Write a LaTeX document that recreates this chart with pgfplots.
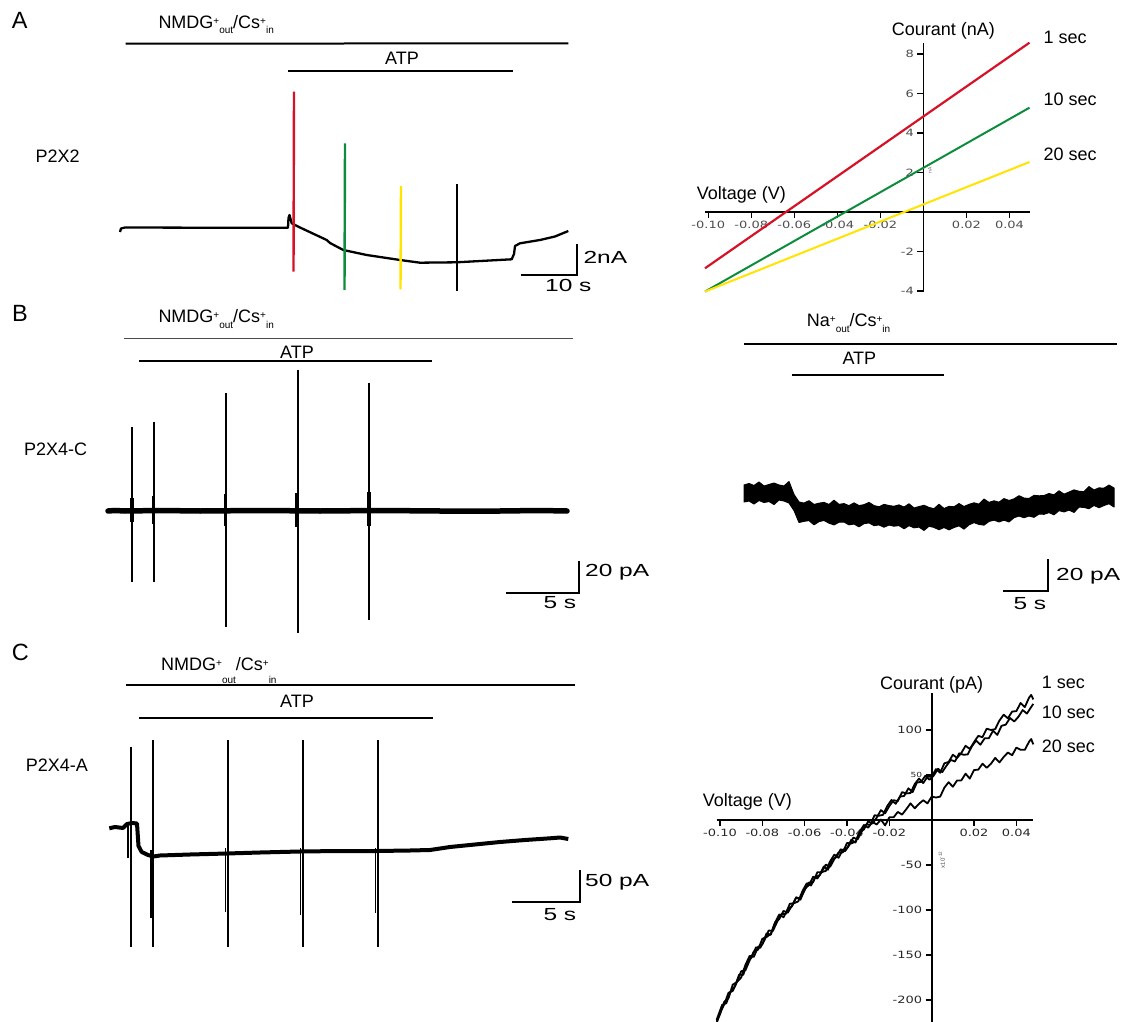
\documentclass[border=0pt]{standalone}
\usepackage{fontspec}
\setmainfont{Liberation Sans}
\newfontfamily\barfont[FakeStretch=1.4]{Liberation Sans}
\newfontfamily\tickfont[FakeStretch=1.3]{DejaVu Sans}
\usepackage{pgfplots}
\pgfplotsset{compat=1.18}

\definecolor{ivred}{RGB}{214,18,38}
\definecolor{ivgreen}{RGB}{12,140,60}
\definecolor{ivyellow}{RGB}{255,228,0}

\newcommand\lab{\fontsize{18}{20}\selectfont}
\newcommand\pnl{\fontsize{23.5}{26}\selectfont}
\newcommand\sbl{\barfont\fontsize{17.5}{20}\selectfont}
\newcommand\up[1]{\raisebox{4pt}{\fontsize{10}{10}\selectfont #1}}
\newcommand\dn[2]{\raisebox{-#1}{\fontsize{10}{10}\selectfont #2}}

\pgfplotsset{
  ivstyle/.style={
    anchor=south west, scale only axis, clip=false,
    axis lines=middle,
    axis line style={line width=1.8pt, -},
    every inner x axis line/.append style={-},
    every inner y axis line/.append style={-},
    tick align=outside, major tick length=6pt,
    tick style={line width=1.2pt, black},
    xtick={-0.10,-0.08,-0.06,-0.04,-0.02,0.02,0.04},
    xticklabels={-0.10,-0.08,-0.06,-0.04,-0.02,0.02,0.04},
    no markers,
  },
}

\begin{document}
\begin{tikzpicture}
\useasboundingbox (0,0) rectangle (1125pt,1022pt);

% ---- A: I-V, P2X2 (nA)
\begin{axis}[ivstyle,
  at={(705pt,730pt)}, width=324.5pt, height=249.3pt,
  xmin=-0.1015, xmax=0.0493, ymin=-4.05, ymax=8.57,
  ytick={-4,-2,2,4,6,8},
  yticklabels={-4,-2,2,4,6,8},
  ticklabel style={font=\tickfont\fontsize{10}{10}\selectfont, text=black!70},
]
\addplot[ivred, line width=2.2pt] coordinates {(-0.1015,-2.85) (0.0493,8.57)};
\addplot[ivgreen, line width=2pt] coordinates {(-0.1015,-4.03) (0.0493,5.28)};
\addplot[ivyellow, line width=2pt] coordinates {(-0.1015,-4.03) (0.0493,2.53)};
\end{axis}

% ---- C: I-V, P2X4-A (pA)
\begin{axis}[ivstyle,
  at={(716.6pt,0pt)}, width=316.7pt, height=328.7pt,
  xmin=-0.1016, xmax=0.048, ymin=-224.4, ymax=140.8,
  ytick={-200,-150,-100,-50,50,100},
  yticklabels={-200,-150,-100,-50,{\fontsize{7}{7}\selectfont 50},100},
  ticklabel style={font=\tickfont\fontsize{10}{10}\selectfont, text=black!85},
]
% 1 sec
\addplot[black, line width=1.8pt, line join=round] coordinates {
(-0.1016,-224) (-0.100,-216) (-0.098,-202) (-0.096,-198) (-0.094,-183)
(-0.092,-180) (-0.090,-175) (-0.088,-161) (-0.086,-151) (-0.084,-152)
(-0.082,-141) (-0.080,-138) (-0.078,-126) (-0.076,-127.5) (-0.074,-114)
(-0.072,-110) (-0.070,-101) (-0.068,-103) (-0.066,-95) (-0.064,-86)
(-0.062,-87.5) (-0.060,-78) (-0.058,-69.5) (-0.056,-69) (-0.054,-58)
(-0.052,-58) (-0.050,-56.5) (-0.048,-46) (-0.046,-38.5) (-0.044,-42)
(-0.042,-33) (-0.040,-31.5) (-0.038,-22) (-0.036,-25) (-0.034,-13)
(-0.032,-10.5) (-0.030,-1.5) (-0.028,-4) (-0.026,2.5) (-0.024,11)
(-0.022,7.5) (-0.020,15.5) (-0.018,22) (-0.016,21) (-0.014,31)
(-0.012,29.5) (-0.010,30) (-0.008,40) (-0.006,46) (-0.004,41)
(-0.002,48) (0.000,48) (0.002,56.5) (0.004,52.5) (0.006,63)
(0.008,64.5) (0.010,72.5) (0.012,69) (0.014,74.5) (0.016,82.5)
(0.018,79) (0.020,86.5) (0.022,93.5) (0.024,92) (0.026,101.5)
(0.028,100) (0.030,101) (0.032,110.5) (0.034,117) (0.036,113)
(0.038,120.5) (0.040,121) (0.042,130) (0.044,125.5) (0.046,136)
(0.047,139) (0.048,134)
};
% 10 sec
\addplot[black, line width=1.8pt, line join=round] coordinates {
(-0.1016,-222) (-0.099,-205.5) (-0.097,-203.5) (-0.095,-190.5) (-0.093,-185)
(-0.091,-172) (-0.089,-172) (-0.087,-157.5) (-0.085,-152.5) (-0.083,-141.5)
(-0.081,-142) (-0.079,-133.5) (-0.077,-122.75) (-0.075,-123.25) (-0.073,-113)
(-0.071,-104.5) (-0.069,-104.5) (-0.067,-93) (-0.065,-92.5) (-0.063,-90.25)
(-0.061,-78.75) (-0.059,-70.25) (-0.057,-72.75) (-0.055,-63.5) (-0.053,-61.5)
(-0.051,-51.75) (-0.049,-55.25) (-0.047,-43.75) (-0.045,-41.25) (-0.043,-32.5)
(-0.041,-34.75) (-0.039,-28.25) (-0.037,-19.5) (-0.035,-21.5) (-0.033,-12.75)
(-0.031,-5) (-0.029,-5.25) (-0.027,5.25) (-0.025,4.75) (-0.023,5.75)
(-0.021,15.5) (-0.019,22.25) (-0.017,18) (-0.015,26) (-0.013,26.75)
(-0.011,35.25) (-0.009,31) (-0.007,41.5) (-0.005,42.5) (-0.003,49.1)
(-0.001,44.7) (0.001,49.55) (0.003,56.9) (0.005,53.25) (0.007,60.35)
(0.009,66.7) (0.011,65.05) (0.013,74.15) (0.015,72.5) (0.017,72.85)
(0.019,81.95) (0.021,88.3) (0.023,83.65) (0.025,90.75) (0.027,90.85)
(0.029,99.2) (0.031,94.55) (0.033,104.65) (0.035,106) (0.037,113.35)
(0.039,109.45) (0.041,114.8) (0.043,122.15) (0.045,118.25) (0.047,125.6)
(0.048,129)
};
% 20 sec
\addplot[black, line width=1.8pt, line join=round] coordinates {
(-0.1016,-226) (-0.100,-214) (-0.098,-205) (-0.096,-192) (-0.094,-190)
(-0.092,-180) (-0.090,-168) (-0.088,-167) (-0.086,-156) (-0.084,-146)
(-0.082,-144) (-0.080,-132) (-0.078,-130) (-0.076,-126.5) (-0.074,-114)
(-0.072,-105) (-0.070,-108) (-0.068,-99) (-0.066,-96) (-0.064,-86)
(-0.062,-88.5) (-0.060,-76) (-0.058,-72.5) (-0.056,-63) (-0.054,-65)
(-0.052,-58) (-0.050,-49.5) (-0.048,-52) (-0.046,-43.5) (-0.044,-36)
(-0.042,-36) (-0.040,-25.5) (-0.038,-26) (-0.036,-24) (-0.034,-13)
(-0.032,-5.5) (-0.030,-8.5) (-0.028,-2) (-0.026,-5) (-0.024,0.5)
(-0.022,-6) (-0.020,3) (-0.018,3) (-0.016,9) (-0.014,6)
(-0.012,12) (-0.010,18.5) (-0.008,13) (-0.006,18) (-0.004,22)
(-0.002,18.5) (0.000,26) (0.002,25) (0.004,26) (0.006,36)
(0.008,42) (0.010,37) (0.012,44) (0.014,44) (0.016,51.5)
(0.018,46) (0.020,55.5) (0.022,56) (0.024,62.5) (0.026,58)
(0.028,62.5) (0.030,69) (0.032,64) (0.034,70) (0.036,75)
(0.038,72) (0.040,80.5) (0.042,78) (0.044,78) (0.046,87)
(0.047,90) (0.048,84)
};
\end{axis}

% ---- traces, bars and text, in picture pixels (y down)
\begin{axis}[at={(0pt,0pt)}, anchor=south west, scale only axis,
  width=1125pt, height=1022pt,
  xmin=0, xmax=1125, ymin=0, ymax=1022, y dir=reverse,
  hide axis, clip=false, no markers]

% A: P2X2 trace
\addplot[black, line width=2.3pt, line join=round] coordinates {
(120,232) (121,228.5) (125,227.5) (200,227.7) (288,227.7) (288.5,218)
(289.5,215) (291.7,223.3) (300,227.5) (326.7,240) (330,243) (343.3,250)
(366.7,255) (400,260) (420,262.7) (456.7,262.3) (511.7,259.3) (514,254)
(515,246) (520,243.3) (540,240) (555,236.5) (568.3,231)
};
\addplot[ivred, line width=2.4pt] coordinates {(294,91.7) (293.5,271.7)};
\addplot[ivgreen, line width=2.4pt] coordinates {(345,143.3) (344.5,290)};
\addplot[ivyellow, line width=2.4pt] coordinates {(401,186) (400.5,289.3)};
\addplot[black, line width=2.4pt] coordinates {(456.7,184) (456.7,291)};
\addplot[black, line width=2pt] coordinates {(125.7,43.7) (568.3,43.3)};
\addplot[black, line width=2pt] coordinates {(288.3,71.3) (513.3,71.3)};
\addplot[black, line width=2pt] coordinates {(520.7,275) (577.3,275) (577.3,244)};

% B: P2X4-C trace
\addplot[black, line width=5.5pt, line cap=round] coordinates {
(108,511) (115,510.5) (125,511) (160,510.5) (200,511) (260,510.5)
(320,511) (380,510.5) (440,511) (500,511) (540,510.5) (567,511)
};
\addplot[black, line width=2.2pt] coordinates {(132.3,426.7) (132.3,581.7)};
\addplot[black, line width=2.2pt] coordinates {(154,421.7) (154,581.7)};
\addplot[black, line width=2.2pt] coordinates {(226,393.3) (226,627.3)};
\addplot[black, line width=2.2pt] coordinates {(297.7,370) (297.7,632.7)};
\addplot[black, line width=2.2pt] coordinates {(369.3,382.7) (369.3,620)};
\addplot[black, line width=3.2pt] coordinates {(132,498) (132,522)};
\addplot[black, line width=3.2pt] coordinates {(153.5,496) (153.5,524)};
\addplot[black, line width=3.2pt] coordinates {(225.5,494) (225.5,526)};
\addplot[black, line width=3.2pt] coordinates {(297,493) (297,527)};
\addplot[black, line width=3.2pt] coordinates {(369,492) (369,526)};
\addplot[black!70, line width=1.6pt] coordinates {(124,338.3) (573.3,338.3)};
\addplot[black, line width=2.2pt] coordinates {(139.3,360.7) (431.7,360.7)};
\addplot[black, line width=2pt] coordinates {(506,592.7) (579,592.7) (579,560.7)};

% B: Na+ trace (upper edge, then lower edge back)
\addplot[black, fill=black, line width=1pt, line join=round] coordinates {
(744,485) (749,483.5) (754,485.5) (759,482) (764,486) (769,484.5) (774,483)
(779,485) (784,486) (789,481.5) (794,494.5) (799,502) (804,503.1) (809,500.7)
(814,504.5) (819,503.2) (824,502.4) (829,504.5) (834,500.2) (839,504.4)
(844,503.6) (849,505.7) (854,502.9) (859,505.6) (864,504.7) (869,502.4)
(874,505.6) (879,506.8) (884,504.4) (889,505.6) (894,506.3) (899,504.9)
(904,507.1) (909,503.8) (914,508) (919,506.6) (924,505.3) (929,507.5)
(934,508.7) (939,504.3) (944,508.5) (949,506.4) (954,506.8) (959,503.6)
(964,506.5) (969,504.4) (974,502.8) (979,504.2) (984,499.1) (989,502.4)
(994,500.8) (999,502.2) (1004,498.6) (1009,500.5) (1014,498.9) (1019,495.7)
(1024,498.1) (1029,498.5) (1034,495.4) (1039,495.8) (1044,495.6) (1049,493.5)
(1054,494.9) (1059,490.8) (1064,494.2) (1069,492.1) (1074,489.9) (1079,491.3)
(1084,491.7) (1089,486.6) (1094,490) (1099,487.9) (1104,488.2) (1109,485.1)
(1114,488)
(1114,507) (1109,503.7) (1104,505.5) (1099,507.7) (1094,505.4) (1089,508.7)
(1084,507.4) (1079,507.1) (1074,512.4) (1069,510.1) (1064,511.9) (1059,510.6)
(1054,514.8) (1049,512.6) (1044,514.3) (1039,514) (1034,517.3) (1029,516)
(1024,517.7) (1019,516) (1014,517.7) (1009,521.9) (1004,520.2) (999,521.9)
(994,520.1) (989,521.4) (984,525.1) (979,524.4) (974,522.6) (969,524.8)
(964,529.1) (959,525.8) (954,527.5) (949,529.8) (944,527.5) (939,529.7)
(934,527.4) (929,526.2) (924,530.4) (919,527.1) (914,527.8) (909,525.6)
(904,528.8) (899,525.5) (894,526.2) (889,525) (884,527.2) (879,524.9)
(874,525.6) (869,522.9) (864,523.6) (859,526.8) (854,524) (849,524.8)
(844,522) (839,522.2) (834,524.9) (829,523.2) (824,520.4) (819,521.6)
(814,524.8) (809,520.6) (804,521.3) (799,522.5) (794,510.5) (789,503)
(784,501) (779,500) (774,504.5) (769,501.5) (764,502.5) (759,500.5)
(754,504) (749,501) (744,502)
} -- cycle;
\addplot[black, line width=1.6pt] coordinates {(744,343.7) (1116.7,343.7)};
\addplot[black, line width=2.2pt] coordinates {(791.7,374.7) (944.3,374.7)};
\addplot[black, line width=2pt] coordinates {(1003.3,591) (1047.7,591) (1047.7,559.3)};

% C: P2X4-A trace
\addplot[black, line width=4pt, line join=round] coordinates {
(109.3,828.3) (115,827) (123,828) (127,824) (132,823) (137,823.5)
(138.5,846) (141.7,852) (148,855) (153.3,856.5) (160,855.5) (190,854.5)
(226.7,853.5) (260,852.5) (300,851.5) (340,851) (376.7,851) (410,850.5)
(430,850) (450,847) (475,844.5) (500,842) (525,840) (550,838.3)
(560,837.5) (568.3,839)
};
\addplot[black, line width=2pt] coordinates {(131,746.7) (131,946.7)};
\addplot[black, line width=2pt] coordinates {(153.3,740) (153.3,946.7)};
\addplot[black, line width=2pt] coordinates {(228.3,740) (228.3,946.7)};
\addplot[black, line width=2pt] coordinates {(303.3,740) (303.3,946.7)};
\addplot[black, line width=2pt] coordinates {(378.3,740) (378.3,946.7)};
\addplot[black, line width=1.6pt] coordinates {(128,823) (128,858)};
\addplot[black, line width=1.6pt] coordinates {(150.7,850) (150.7,918.3)};
\addplot[black, line width=1.6pt] coordinates {(225.3,848) (225.3,911.7)};
\addplot[black, line width=1.6pt] coordinates {(300.3,848) (300.3,915)};
\addplot[black, line width=1.6pt] coordinates {(375.3,848) (375.3,912.7)};
\addplot[black, line width=1.2pt] coordinates {(126,685) (575,685)};
\addplot[black, line width=2.2pt] coordinates {(139.3,717.7) (433.3,717.7)};
\addplot[black, line width=2pt] coordinates {(512.3,901.7) (580,901.7) (580,870)};

% text
\node[anchor=base west, inner sep=0pt] at (11.6,28.3) {\pnl A};
\node[anchor=base west, inner sep=0pt] at (12,321.7) {\pnl B};
\node[anchor=base west, inner sep=0pt] at (11.6,660) {\pnl C};
\node[anchor=base west, inner sep=0pt] at (35.3,162.3) {\lab P2X2};
\node[anchor=base west, inner sep=0pt] at (24,455) {\lab P2X4-C};
\node[anchor=base west, inner sep=0pt] at (25.7,771.7) {\lab P2X4-A};

\node[anchor=base west, inner sep=0pt] at (158.3,28.3)
  {\lab NMDG\up{+}\dn{5.7pt}{out}/Cs\up{+}\dn{5.7pt}{in}};
\node[anchor=base west, inner sep=0pt] at (385,65) {\lab ATP};
\node[anchor=base west, inner sep=0pt] at (158.3,322.7)
  {\lab NMDG\up{+}\dn{5.7pt}{out}/Cs\up{+}\dn{5.7pt}{in}};
\node[anchor=base west, inner sep=0pt] at (280,358.3) {\lab ATP};
\node[anchor=base west, inner sep=0pt] at (161,670.7)
  {\lab NMDG\up{+}\dn{12.6pt}{out}/Cs\up{+}\dn{12.6pt}{in}};
\node[anchor=base west, inner sep=0pt] at (280,707.7) {\lab ATP};
\node[anchor=base west, inner sep=0pt] at (806.7,326.7)
  {\lab Na\up{+}\dn{5.7pt}{out}/Cs\up{+}\dn{5.7pt}{in}};
\node[anchor=base west, inner sep=0pt] at (842.3,364) {\lab ATP};

\node[anchor=base west, inner sep=0pt] at (583.3,263.3) {\sbl 2nA};
\node[anchor=base west, inner sep=0pt] at (545,291.7) {\sbl 10 s};
\node[anchor=base west, inner sep=0pt] at (585,576) {\sbl 20 pA};
\node[anchor=base west, inner sep=0pt] at (543.3,608.3) {\sbl 5 s};
\node[anchor=base west, inner sep=0pt] at (1056,580) {\sbl 20 pA};
\node[anchor=base west, inner sep=0pt] at (1013.3,609.3) {\sbl 5 s};
\node[anchor=base west, inner sep=0pt] at (585,886) {\sbl 50 pA};
\node[anchor=base west, inner sep=0pt] at (543.3,920) {\sbl 5 s};

\node[anchor=base west, inner sep=0pt] at (891.7,36) {\lab Courant (nA)};
\node[anchor=base west, inner sep=0pt] at (696.7,200) {\lab Voltage (V)};
\node[anchor=base west, inner sep=0pt] at (1043.3,43.3) {\lab 1 sec};
\node[anchor=base west, inner sep=0pt] at (1043.3,106) {\lab 10 sec};
\node[anchor=base west, inner sep=0pt] at (1043.3,160.7) {\lab 20 sec};
\node[rotate=90, inner sep=0pt, text=black!60] at (930,170) {\fontsize{5}{5}\selectfont nA};

\node[anchor=base west, inner sep=0pt] at (880,689.3) {\lab Courant (pA)};
\node[anchor=base west, inner sep=0pt] at (702.7,806.7) {\lab Voltage (V)};
\node[anchor=base west, inner sep=0pt] at (1041.7,688.3) {\lab 1 sec};
\node[anchor=base west, inner sep=0pt] at (1041.7,718.3) {\lab 10 sec};
\node[anchor=base west, inner sep=0pt] at (1041.7,752.7) {\lab 20 sec};
\node[rotate=90, inner sep=0pt, text=black!70] at (941.7,860)
  {\fontsize{6}{6}\selectfont x10\raisebox{3pt}{\fontsize{4.5}{5}\selectfont -12}};
\end{axis}
\end{tikzpicture}
\end{document}
